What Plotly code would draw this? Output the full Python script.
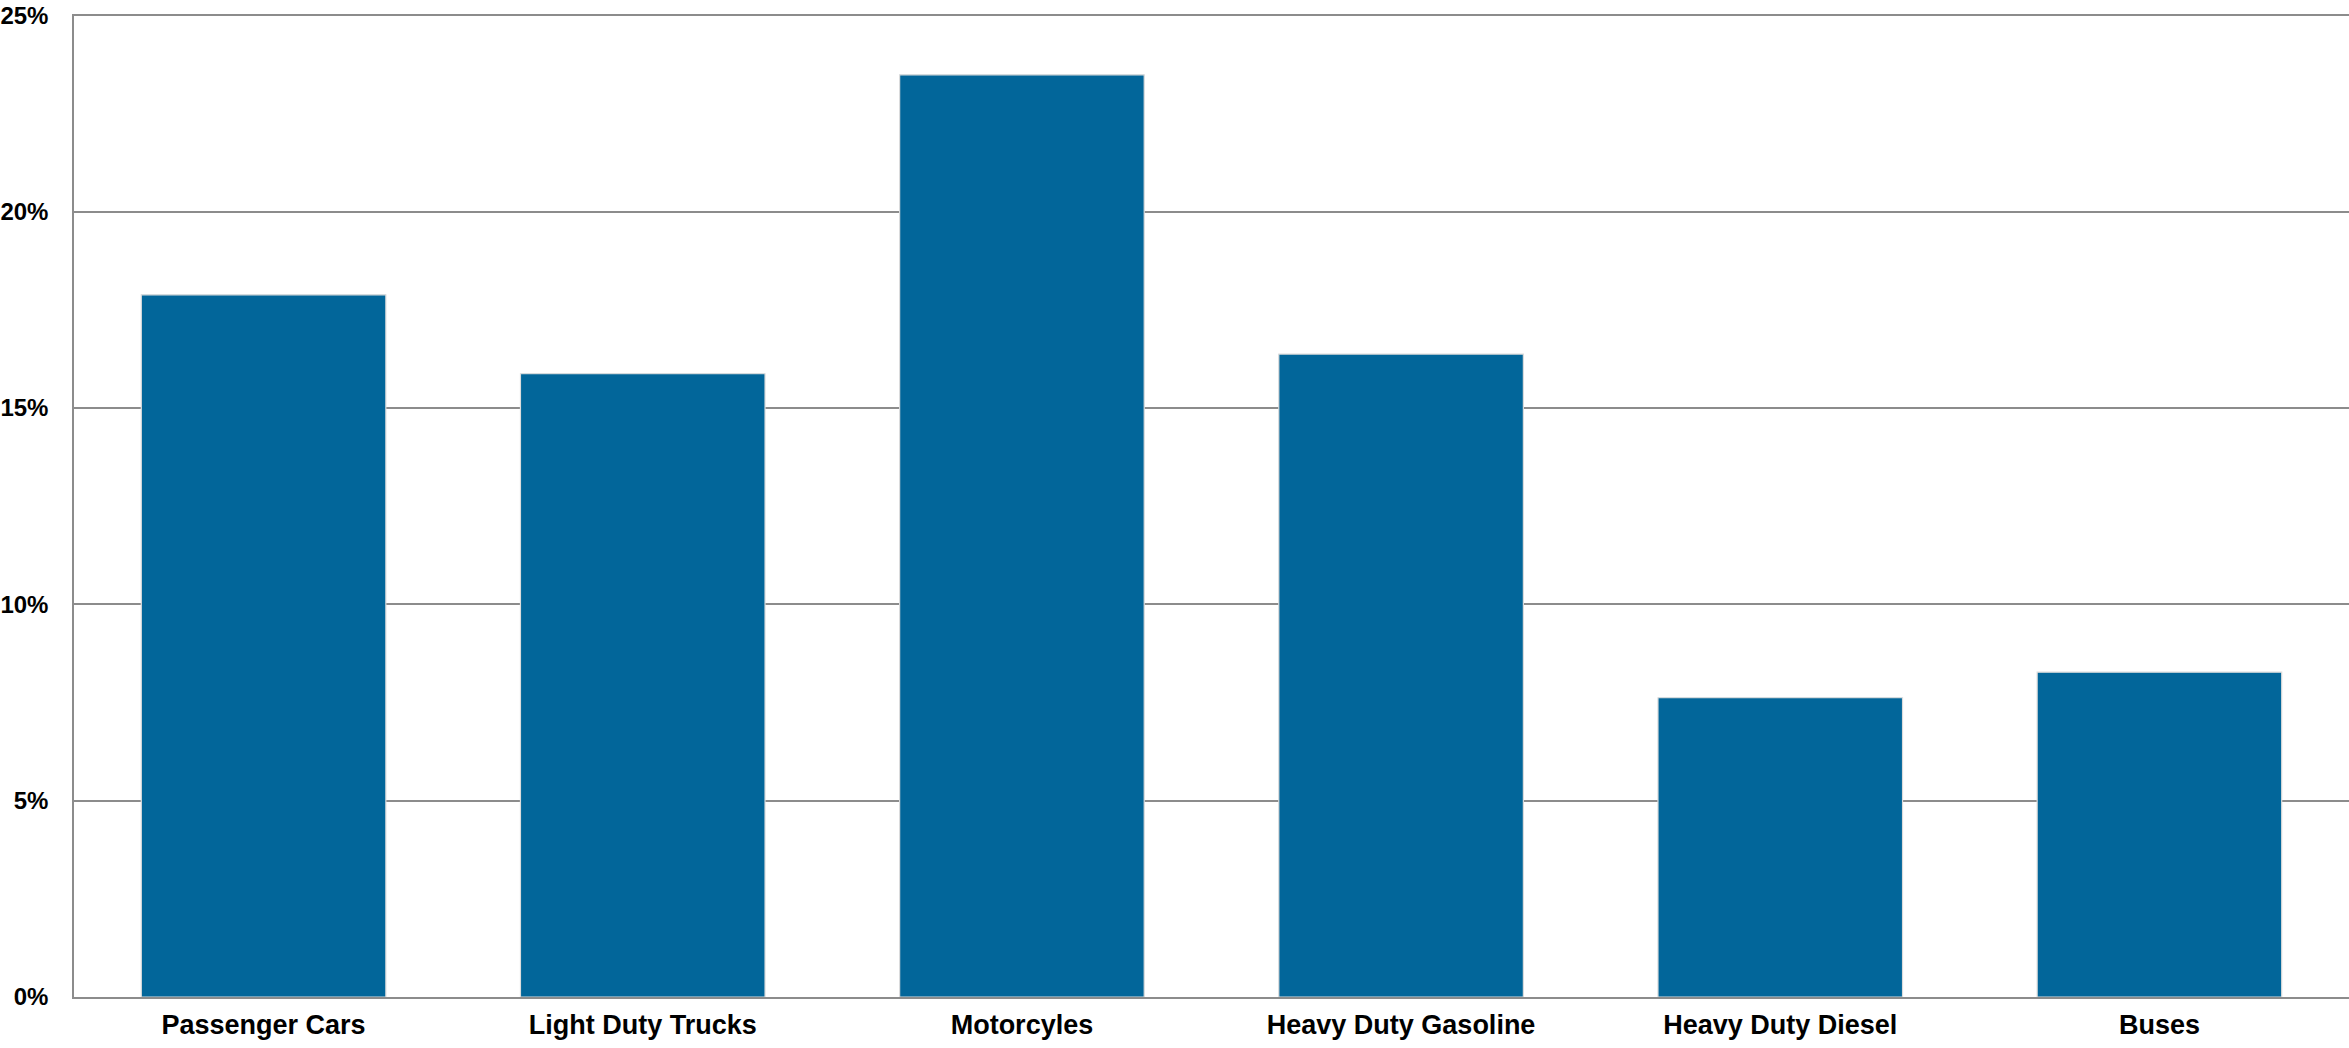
import plotly.graph_objects as go

categories = ["Passenger Cars", "Light Duty Trucks", "Motorcyles",
              "Heavy Duty Gasoline", "Heavy Duty Diesel", "Buses"]
values = [17.88, 15.87, 23.48, 16.37, 7.62, 8.27]
y_ticks = [0, 5, 10, 15, 20, 25]
y_tick_labels = [f"{v}%" for v in y_ticks]

FONT = "Liberation Sans, Arial, sans-serif"

fig = go.Figure()
fig.add_trace(go.Bar(
    x=categories,
    y=values,
    width=0.645,
    marker=dict(color="#02669A", line=dict(color="#dcdcdc", width=1.2)),
    hoverinfo="x+y",
))

fig.update_layout(
    width=2349,
    height=1048,
    margin=dict(l=74, r=0, t=14, b=51, autoexpand=False),
    paper_bgcolor="white",
    plot_bgcolor="white",
    showlegend=False,
    font=dict(family=FONT, size=26, color="#000000"),
    xaxis=dict(
        showgrid=False,
        showline=True,
        linecolor="#8c8c8c",
        linewidth=1.5,
        ticks="outside",
        ticklen=3,
        tickcolor="rgba(255,255,255,0)",
        tickfont=dict(family=FONT, size=27, color="#000000", weight="bold"),
        automargin=False,
    ),
    yaxis=dict(
        range=[0, 25.03],
        tickvals=y_ticks,
        ticktext=y_tick_labels,
        showgrid=True,
        gridcolor="#8c8c8c",
        gridwidth=1.5,
        showline=True,
        linecolor="#8c8c8c",
        linewidth=1.5,
        zeroline=False,
        ticks="outside",
        ticklen=19,
        tickcolor="rgba(255,255,255,0)",
        tickfont=dict(family=FONT, size=24, color="#000000", weight="bold"),
        automargin=False,
    ),
)

fig.write_html("out.html")
